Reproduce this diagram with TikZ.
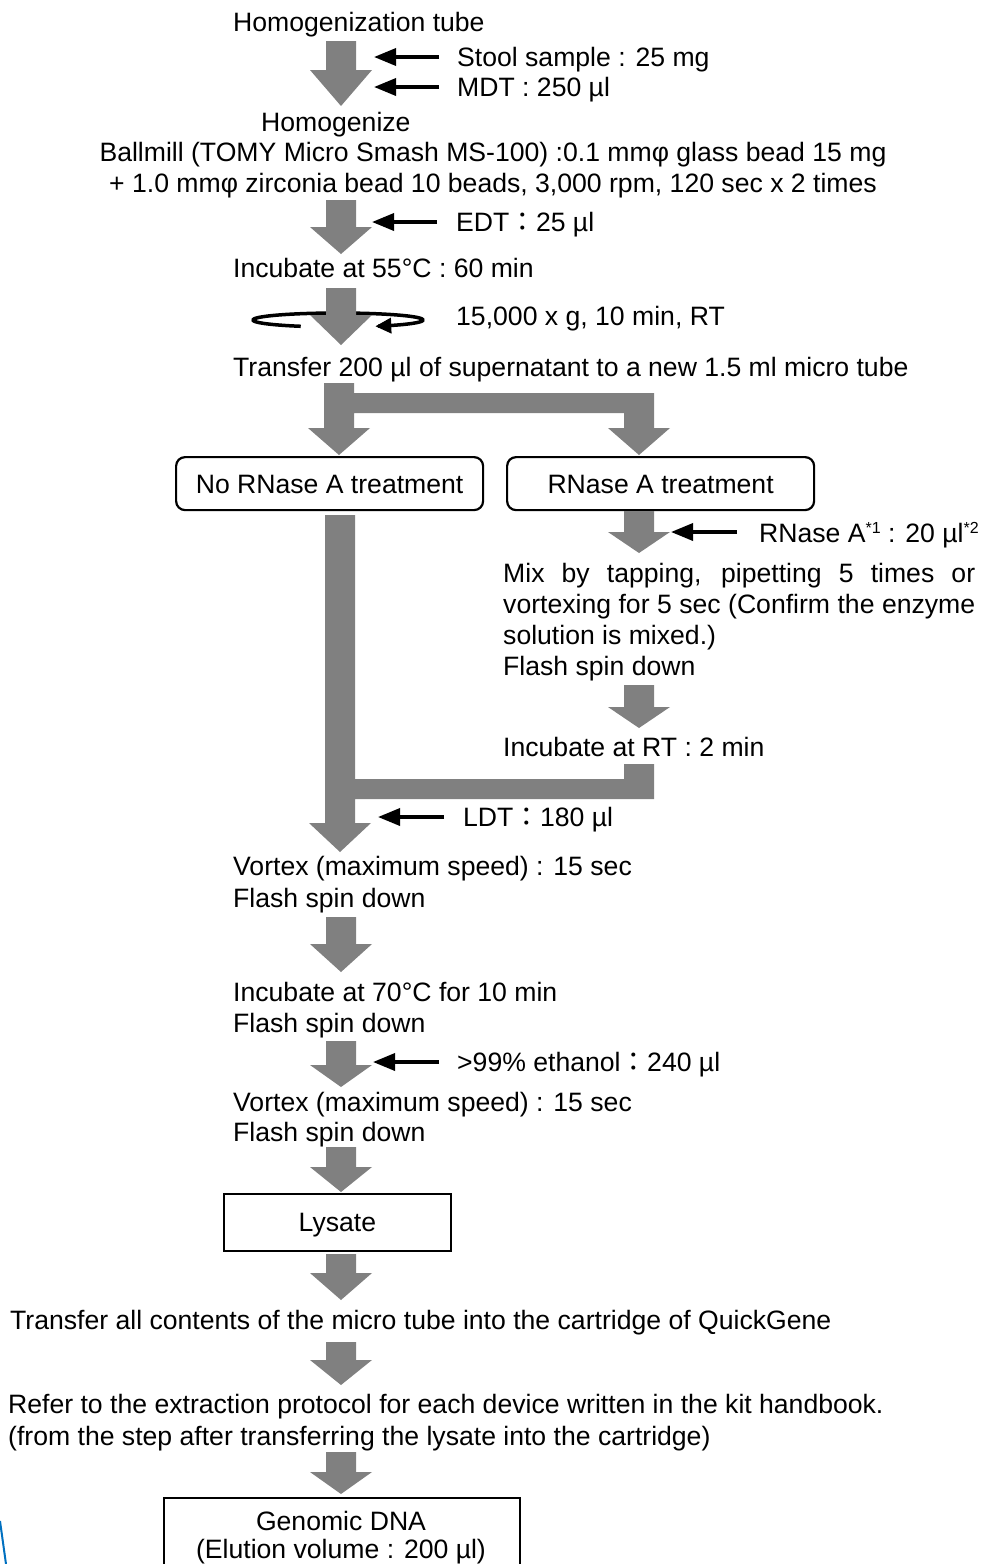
\documentclass[tikz,border=0pt]{standalone}
\usepackage{fontspec}
\setmainfont{Liberation Sans}
\newfontfamily\cjkfont{Noto Sans CJK JP}
\usetikzlibrary{arrows.meta}
\definecolor{arrowgray}{HTML}{808080}
\definecolor{lineblue}{HTML}{0070C0}
\newcommand{\fwc}{{\cjkfont ：}}
\newcommand{\supmark}[1]{\raisebox{9pt}{\fontsize{16}{16}\selectfont #1}}
% gray block arrow: centre x, shaft top, head base, tip
\newcommand{\garrow}[4]{%
  \fill[arrowgray] (#1-15,#2) -- (#1+15,#2) -- (#1+15,#3) -- (#1+31,#3) -- (#1,#4)
    -- (#1-31,#3) -- (#1-15,#3) -- cycle;}
\begin{document}
\begin{tikzpicture}[x=1pt,y=-1pt,
  txt/.style={inner sep=0pt, anchor=west, text height=19pt, text depth=0pt,
    font=\fontsize{26.6}{31}\selectfont},
  ctxt/.style={txt, anchor=center},
  rbox/.style={draw, line width=2.2pt, rounded corners=9pt, anchor=north west,
    inner sep=0pt, text height=19pt, text depth=0pt, font=\fontsize{26.6}{31}\selectfont},
  sbox/.style={draw, line width=1.8pt, anchor=north west,
    inner sep=0pt, text height=19pt, text depth=0pt, font=\fontsize{26.6}{31}\selectfont},
  feed/.style={line width=3.5pt, -{Triangle[length=22pt,width=17pt]}},
  spinline/.style={line width=3.5pt},
]
\fill[white] (0,0) rectangle (987,1564);
\useasboundingbox (0,0) rectangle (987,1564);

% ---------- texts ----------
\node[txt] (t1) at (233,22) {Homogenization tube};
\node[txt] (stool) at (457,57) {Stool sample : 25 mg};
\node[txt] (mdt) at (457,87) {MDT : 250 µl};
\node[txt] (homog) at (261,122) {Homogenize};
\node[ctxt] (ball1) at (493,152) {Ballmill (TOMY Micro Smash MS-100) :0.1 mmφ glass bead 15 mg};
\node[ctxt] (ball2) at (493,183) {+ 1.0 mmφ zirconia bead 10 beads, 3,000 rpm, 120 sec x 2 times};
\node[txt] (edt) at (456,222) {EDT\fwc 25 µl};
\node[txt] (inc55) at (233,268) {Incubate at 55°C : 60 min};
\node[txt] (spin) at (456,316) {15,000 x g, 10 min, RT};
\node[txt] (trans) at (233,367) {Transfer 200 µl of supernatant to a new 1.5 ml micro tube};

\node[rbox, minimum width=307pt, minimum height=53pt] (norn) at (175,456) {No RNase A treatment};
\node[rbox, minimum width=307pt, minimum height=53pt] (rn) at (506,456) {RNase A treatment};

\node[txt] (rnlab) at (759,533) {RNase A\supmark{*1} : 20 µl\supmark{*2}};
\node[txt] (mix1) at (503,573) {\makebox[472pt][s]{Mix by tapping, pipetting 5 times or}};
\node[txt] (mix2) at (503,604) {\makebox[472pt][s]{vortexing for 5 sec (Confirm the enzyme}};
\node[txt] (mix3) at (503,635) {solution is mixed.)};
\node[txt] (mix4) at (503,666) {Flash spin down};
\node[txt] (incrt) at (503,747) {Incubate at RT : 2 min};

\node[txt] (ldt) at (463,817) {LDT\fwc 180 µl};
\node[txt] (vort1) at (233,866) {Vortex (maximum speed) : 15 sec};
\node[txt] (flash1) at (233,898) {Flash spin down};
\node[txt] (inc70) at (233,992) {Incubate at 70°C for 10 min};
\node[txt] (flash2) at (233,1023) {Flash spin down};
\node[txt] (eth) at (457,1062) {>99\% ethanol\fwc 240 µl};
\node[txt] (vort2) at (233,1102) {Vortex (maximum speed) : 15 sec};
\node[txt] (flash3) at (233,1132) {Flash spin down};

\node[sbox, minimum width=227pt, minimum height=57pt] (lys) at (223,1193) {Lysate};

\node[txt] (transall) at (10,1320) {Transfer all contents of the micro tube into the cartridge of QuickGene};
\node[txt] (refer1) at (8,1404) {Refer to the extraction protocol for each device written in the kit handbook.};
\node[txt] (refer2) at (8,1436) {(from the step after transferring the lysate into the cartridge)};

\node[sbox, minimum width=356pt, minimum height=67pt] (gbox) at (163,1497) {};
\node[ctxt] (gen1) at (341,1521) {Genomic DNA};
\node[ctxt] (gen2) at (341,1549) {(Elution volume : 200 µl)};

% ---------- gray block arrows ----------
\garrow{341}{41}{70}{106}
\garrow{341}{200}{227}{254}

% centrifuge: back arc first
\draw[spinline] plot[domain=180:360, samples=60] ({338+85*cos(\x)}, {320+7*sin(\x)});
\garrow{341}{288}{315}{345}
\draw[spinline] plot[domain=116:180, samples=30] ({338+85*cos(\x)}, {320+7*sin(\x)});
\draw[spinline, -{Triangle[length=16pt,width=15pt]}] plot[domain=0:64, samples=30] ({338+85*cos(\x)}, {320+7*sin(\x)});

% branch
\fill[arrowgray] (324,383) -- (354,383) -- (354,393) -- (654,393) -- (654,428) -- (670,428)
  -- (639,455) -- (608,428) -- (624,428) -- (624,413) -- (354,413) -- (354,428) -- (370,428)
  -- (339,455) -- (308,428) -- (324,428) -- cycle;

% right branch arrows
\garrow{639}{511}{532}{553}
\garrow{639}{685}{707}{728}

% merge
\fill[arrowgray] (325,515) -- (355,515) -- (355,779) -- (624,779) -- (624,764) -- (654,764)
  -- (654,799) -- (355,799) -- (355,823) -- (371,823) -- (340,852) -- (309,823) -- (325,823) -- cycle;

\garrow{341}{917}{944}{972}
\garrow{341}{1041}{1065}{1087}
\garrow{341}{1147}{1167}{1192}
\garrow{341}{1254}{1273}{1300}
\garrow{341}{1342}{1360}{1385}
\garrow{341}{1452}{1472}{1494}

% ---------- feed arrows ----------
\draw[feed] (439,57) -- (374,57);
\draw[feed] (439,87) -- (374,87);
\draw[feed] (437,222) -- (372,222);
\draw[feed] (737,532) -- (671,532);
\draw[feed] (444,817) -- (378,817);
\draw[feed] (439,1062) -- (373,1062);

% stray blue line at the lower left
\draw[lineblue, line width=2pt] (0,1521) -- (6,1564);
\end{tikzpicture}
\end{document}
